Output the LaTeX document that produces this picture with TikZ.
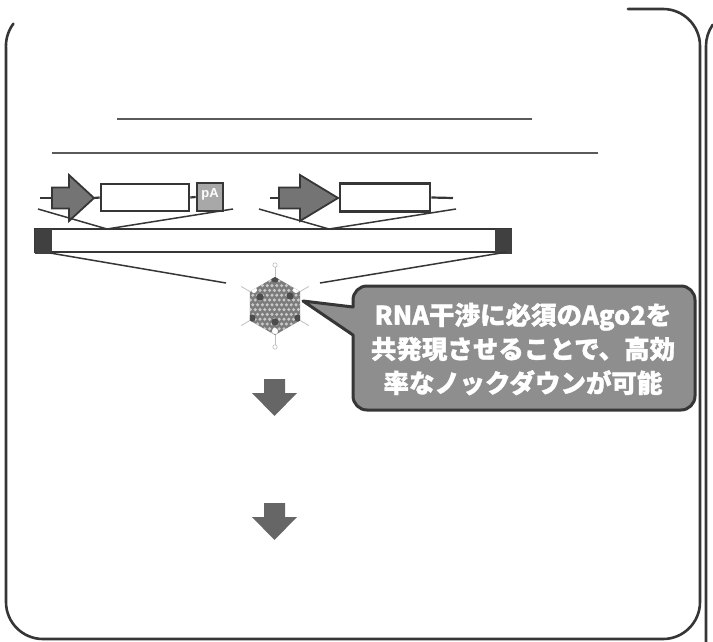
\documentclass[tikz,border=0pt]{standalone}
\usepackage{fontspec}
\usetikzlibrary{calc}
\newfontfamily\jpfont{Noto Sans CJK JP}[BoldFeatures={FakeBold=1.2}]
\newfontfamily\lsans{Liberation Sans}
\definecolor{ink}{HTML}{363636}
\definecolor{rule}{HTML}{5A5A5A}
\definecolor{promfill}{HTML}{747474}
\definecolor{pafill}{HTML}{A8A8A8}
\definecolor{bubblefill}{HTML}{8E8E8E}
\definecolor{downfill}{HTML}{666666}
\definecolor{capsidfill}{HTML}{7C7C7C}
\definecolor{capsiddot}{HTML}{C9C9C9}
\tikzset{
  frameline/.style={draw=ink, line width=2.6pt, line cap=round},
  ruleline/.style={draw=rule, line width=1.4pt},
  wire/.style={draw=ink, line width=2.2pt},
  fanline/.style={draw=ink, line width=1.5pt},
  promoter/.style={draw=ink, line width=1.8pt, fill=promfill, line join=miter},
  cdsbox/.style={draw=ink, line width=2.6pt, fill=white, inner sep=0pt},
  pabox/.style={draw=ink, line width=2.6pt, fill=pafill, inner sep=0pt},
  vectorbar/.style={draw=ink, line width=1.6pt, fill=white},
  itrblock/.style={fill=ink!95},
  downarrow/.style={fill=downfill, draw=none},
  callout/.style={draw=ink, line width=3pt, fill=bubblefill, line join=round},
  callouttext/.style={text=white, font=\jpfont\bfseries\fontsize{25.5}{34}\selectfont, align=center},
  spike/.style={draw=black!25, line width=0.8pt},
  knob/.style={draw=black!25, fill=white, line width=0.6pt}
}
\begin{document}
\begin{tikzpicture}[x=1pt,y=-1pt]
\useasboundingbox (0,0) rectangle (713,642);

% ---- panel frame (open at the top left) ----
\draw[frameline] (13.4,23.7) arc[start angle=217, end angle=180, radius=37]
  -- (6,602) arc[start angle=180, end angle=90, radius=37]
  -- (663,639) arc[start angle=90, end angle=0, radius=37]
  -- (700,46) arc[start angle=0, end angle=-90, radius=37]
  -- (628,9);
% edge of the neighbouring panel
\draw[frameline] (706,650) -- (706,46) arc[start angle=180, end angle=215, radius=37];

% ---- title rules ----
\coordinate (r1a) at (117,119); \coordinate (r1b) at (532,119);
\coordinate (r2a) at (52,153);  \coordinate (r2b) at (598,153);
\draw[ruleline] (r1a) -- (r1b);
\draw[ruleline] (r2a) -- (r2b);

% ---- expression cassette 1 : promoter - CDS - pA ----
\coordinate (w1a) at (40,198);
\coordinate (p1s) at (52,198);
\coordinate (p1t) at (94,198);
\draw[wire] (w1a) -- (p1s);
\draw[promoter] (52,187.5) -- (69,187.5) -- (69,175) -- (p1t) -- (69,221) -- (69,208.5) -- (52,208.5) -- cycle;
\node[cdsbox, minimum width=88pt, minimum height=27pt] (cds1) at (145,197.5) {};
\node[pabox, minimum width=26pt, minimum height=28pt] (pa) at (210,197) {};
\node[text=white, font=\lsans\bfseries\fontsize{13}{13}\selectfont, inner sep=0pt] (patext) at (210,194) {pA};
\draw[wire] (p1t) -- (cds1.west);
\draw[wire] (cds1.east) -- (pa.west);

% ---- expression cassette 2 : promoter - CDS ----
\coordinate (w2a) at (270,198);
\coordinate (p2s) at (279,198);
\coordinate (p2t) at (338,198);
\coordinate (w2b) at (453,198);
\draw[wire] (w2a) -- (p2s);
\draw[promoter] (279,187.5) -- (300,187.5) -- (300,175) -- (p2t) -- (300,221) -- (300,208.5) -- (279,208.5) -- cycle;
\node[cdsbox, minimum width=90pt, minimum height=28pt] (cds2) at (385,197.5) {};
\draw[wire] (cds2.east) -- (w2b);

% ---- vector genome bar with terminal repeats ----
\node[vectorbar, minimum width=476pt, minimum height=23pt, inner sep=0pt] (bar) at (273,240.5) {};
\fill[itrblock] (35,228.5) rectangle (52,253.5);
\fill[itrblock] (495,228.5) rectangle (511.5,253.5);

% zoom-out lines from the cassettes onto the bar
\coordinate (v1) at (107,229);
\coordinate (v2) at (329,229);
\draw[fanline] (38,209) -- (v1) -- (233,209);
\draw[fanline] (259,209) -- (v2) -- (456,209);

% ---- virus particle ----
\coordinate (cap) at (275,306);
\coordinate (capL) at (226,283);
\coordinate (capR) at (320,283);
\draw[fanline] (50,253) -- (capL);
\draw[fanline] (507,252) -- (capR);

% fibres
\foreach \a in {-90,-30,30,90,150,210}{
  \draw[spike] ($(cap)+(\a:29)$) -- ($(cap)+(\a:39)$);
}
\foreach \a in {-90,90}{
  \draw[knob] ($(cap)+(\a:41)$) circle[radius=2.2];
}
% capsid body
\begin{scope}
  \path[fill=capsidfill] (275,277) -- (300.1,291.5) -- (300.1,320.5) -- (275,335) -- (249.9,320.5) -- (249.9,291.5) -- cycle;
  \clip (275,277) -- (300.1,291.5) -- (300.1,320.5) -- (275,335) -- (249.9,320.5) -- (249.9,291.5) -- cycle;
  \foreach \r in {0,...,12}{
    \foreach \c in {0,...,11}{
      \fill[capsiddot] ({248+\c*4.8+mod(\r,2)*2.4},{276+\r*4.8}) circle[radius=1.7];
    }
  }
  \foreach \p in {(275,279),(260,297),(290,296),(252,318),(298,318),(275,322)}{
    \fill[black!70] \p circle[radius=3.6];
  }
  \foreach \p in {(254,290),(296,290),(275,331)}{
    \fill[white] \p circle[radius=3];
  }
\end{scope}

% ---- call-out ----
\coordinate (tip) at (303,301);
\draw[callout] (tip) -- (353,307) -- (353,300) arc[start angle=180, end angle=270, radius=14]
  -- (681,286) arc[start angle=270, end angle=360, radius=14]
  -- (695,396) arc[start angle=0, end angle=90, radius=14]
  -- (367,410) arc[start angle=90, end angle=180, radius=14]
  -- (353,335) -- cycle;
\node[callouttext] (msg) at (523,349) {RNA干渉に必須のAgo2を\\共発現させることで、高効\\率なノックダウンが可能};

% ---- process arrows ----
\coordinate (d1) at (274.5,379);
\coordinate (d2) at (274.5,503);
\foreach \d in {d1,d2}{
  \fill[downarrow] ($(\d)+(-10.5,0)$) -- ($(\d)+(10.5,0)$) -- ($(\d)+(10.5,14)$) -- ($(\d)+(22.5,14)$)
    -- ($(\d)+(0,37)$) -- ($(\d)+(-22.5,14)$) -- ($(\d)+(-10.5,14)$) -- cycle;
}
\end{tikzpicture}
\end{document}
